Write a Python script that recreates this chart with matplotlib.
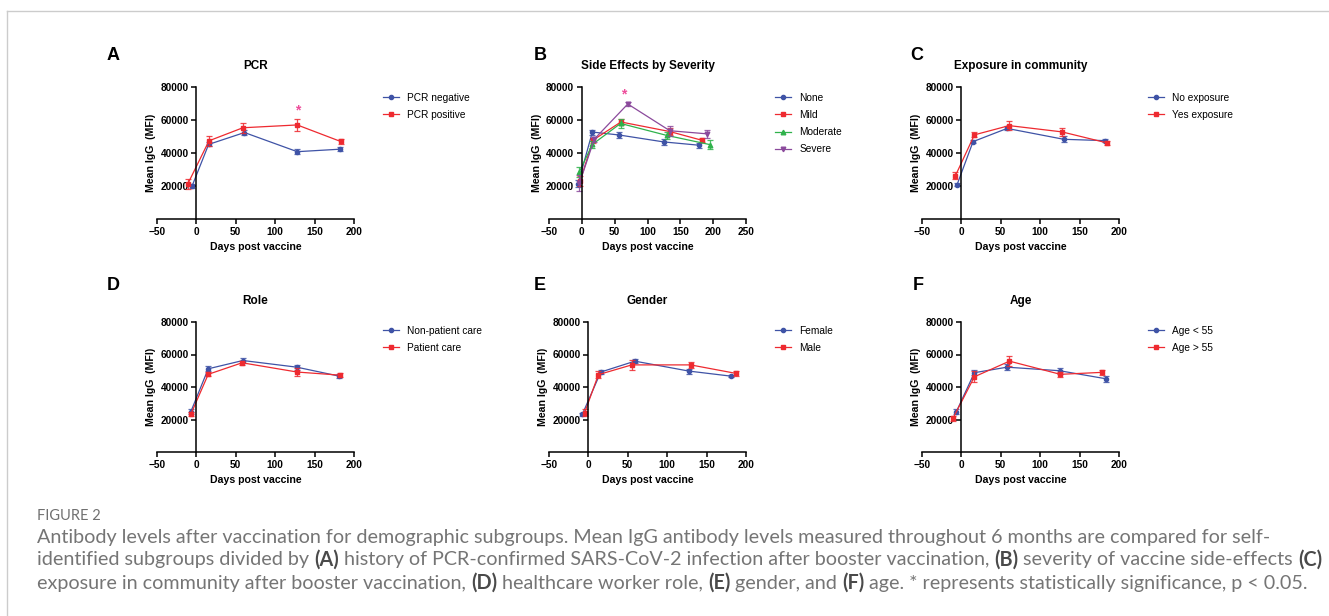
import matplotlib
matplotlib.use("Agg")
import matplotlib.pyplot as plt
from matplotlib.lines import Line2D

# ---- data (days post vaccine, mean IgG MFI, error) ----
# A: PCR
pcr_neg_x = [-5.5, 15.5, 61, 128, 182]
pcr_neg_y = [19950, 45200, 52400, 40800, 42300]
pcr_neg_err = [1200, 1200, 1500, 1500, 1200]
pcr_pos_x = [-11, 16, 59, 128, 183]
pcr_pos_y = [21200, 47400, 55300, 57000, 47000]
pcr_pos_err = [3000, 3000, 3000, 3500, 1500]
pcr_star = (128, 65500)

# B: side effects by severity
se_none_x = [-5.6, 16, 57, 125, 179]
se_none_y = [21500, 52700, 50900, 46700, 44700]
se_none_err = [2000, 1500, 2000, 1800, 1500]
se_mild_x = [-2.5, 17, 59.5, 134, 183]
se_mild_y = [23100, 47800, 58800, 53000, 47700]
se_mild_err = [3000, 1500, 2000, 2000, 1200]
se_mod_x = [-3.6, 16, 59, 129, 195]
se_mod_y = [28700, 45200, 57900, 50700, 45100]
se_mod_err = [3000, 2000, 2500, 2000, 2500]
se_sev_x = [-3.6, 19, 70, 134, 191]
se_sev_y = [21700, 48400, 69700, 53500, 51600]
se_sev_err = [5000, 1500, 1500, 3000, 2500]
se_star = (63, 75400)

# C: exposure in community
exp_no_x = [-5.5, 14.8, 58, 130, 182]
exp_no_y = [20800, 46900, 54900, 48300, 47500]
exp_no_err = [1000, 1000, 1200, 1800, 1000]
exp_yes_x = [-7.6, 16.5, 60.6, 127.6, 185]
exp_yes_y = [26200, 51000, 56600, 52800, 46100]
exp_yes_err = [2000, 1500, 2500, 2500, 1000]

# D: role
role_non_x = [-7, 15, 59, 127.5, 181]
role_non_y = [24900, 51200, 56300, 52200, 46700]
role_non_err = [1500, 1500, 1500, 1500, 1000]
role_pat_x = [-7, 15, 58, 128, 182]
role_pat_y = [23300, 47800, 54900, 49200, 47300]
role_pat_err = [1200, 1200, 1200, 2500, 1200]

# E: gender
gen_f_x = [-7.6, 15.7, 59, 127.5, 180.5]
gen_f_y = [23300, 49200, 55900, 49800, 46700]
gen_f_err = [1000, 1000, 1200, 1500, 800]
gen_m_x = [-4.7, 12.7, 55, 129.7, 187]
gen_m_y = [24300, 47600, 53600, 53600, 48400]
gen_m_err = [2000, 2000, 3000, 2000, 1500]

# F: age
age_lo_x = [-6.3, 16.5, 58, 124.8, 183]
age_lo_y = [24900, 48800, 52200, 50000, 45100]
age_lo_err = [1500, 1500, 2000, 2000, 1800]
age_hi_x = [-10.6, 16.5, 61, 125.6, 178]
age_hi_y = [20800, 46300, 55900, 47800, 49000]
age_hi_err = [1500, 3500, 3000, 1500, 1500]

y_ticks = [20000, 40000, 60000, 80000]

BLUE = "#3f53a6"
RED = "#ee2a30"
GREEN = "#2fb24b"
PURPLE = "#8b4a9c"
STAR = "#ee4d9b"

plt.rcParams["font.family"] = ["Liberation Sans", "DejaVu Sans"]

fig = plt.figure(figsize=(13.29, 6.16), dpi=100)
W, H = 1329, 616


def box(left, top, right, bottom):
    return [left / W, 1 - bottom / H, (right - left) / W, (bottom - top) / H]


def panel(rect, title, letter, letter_xy, series, xmax, leg_y, star=None):
    ax = fig.add_axes(rect)
    for x, y, e, color, marker, ms, label in series:
        ax.errorbar(x, y, yerr=e, fmt="none", ecolor=color, elinewidth=0.9,
                    capsize=2, capthick=0.9, alpha=0.85)
        ax.plot(x, y, color=color, marker=marker, ms=ms, lw=0.9,
                label=label)
    if star is not None:
        ax.text(star[0], star[1], "*", color=STAR, fontsize=10,
                ha="center", va="center", fontweight="bold")
    ax.set_xlim(-50, xmax)
    ax.set_ylim(0, 80000)
    ax.set_xticks(range(-50, xmax + 1, 50))
    ax.set_yticks(y_ticks)
    ax.spines["left"].set_position(("data", 0))
    ax.spines["top"].set_visible(False)
    ax.spines["right"].set_visible(False)
    for s in ("left", "bottom"):
        ax.spines[s].set_linewidth(1.1)
    ax.tick_params(length=3.5, width=1.1, labelsize=7.3, pad=2)
    for lab in ax.get_xticklabels() + ax.get_yticklabels():
        lab.set_fontweight("bold")
    ax.set_title(title, fontsize=8.5, fontweight="bold", pad=13)
    ax.set_xlabel("Days post vaccine", fontsize=7.6, fontweight="bold",
                  labelpad=4)
    ax.set_ylabel("Mean IgG  (MFI)", fontsize=7.6, fontweight="bold",
                  labelpad=3)
    ax.legend(loc="upper left", bbox_to_anchor=(1.148, leg_y), frameon=False,
              fontsize=7.3, handlelength=1.6, handletextpad=0.8,
              labelspacing=0.7, borderaxespad=0, borderpad=0)
    fig.text(letter_xy[0] / W, 1 - letter_xy[1] / H, letter, fontsize=13,
             fontweight="bold", ha="center", va="center")
    return ax


panel(box(157, 87, 354, 219), "PCR", "A", (113, 56),
      [(pcr_neg_x, pcr_neg_y, pcr_neg_err, BLUE, "o", 3, "PCR negative"),
       (pcr_pos_x, pcr_pos_y, pcr_pos_err, RED, "s", 3.3, "PCR positive")],
      200, 0.955, pcr_star)
panel(box(549, 87, 746, 219), "Side Effects by Severity", "B", (540, 56),
      [(se_none_x, se_none_y, se_none_err, BLUE, "o", 3, "None"),
       (se_mild_x, se_mild_y, se_mild_err, RED, "s", 3.3, "Mild"),
       (se_mod_x, se_mod_y, se_mod_err, GREEN, "^", 3.3, "Moderate"),
       (se_sev_x, se_sev_y, se_sev_err, PURPLE, "v", 3.3, "Severe")],
      250, 0.955, se_star)
panel(box(922, 87, 1119, 219), "Exposure in community", "C", (917, 56),
      [(exp_no_x, exp_no_y, exp_no_err, BLUE, "o", 3, "No exposure"),
       (exp_yes_x, exp_yes_y, exp_yes_err, RED, "s", 3.3, "Yes exposure")],
      200, 0.955)
panel(box(157, 322, 354, 452), "Role", "D", (113, 286),
      [(role_non_x, role_non_y, role_non_err, BLUE, "o", 3, "Non-patient care"),
       (role_pat_x, role_pat_y, role_pat_err, RED, "s", 3.3, "Patient care")],
      200, 0.97)
panel(box(549, 322, 746, 452), "Gender", "E", (540, 286),
      [(gen_f_x, gen_f_y, gen_f_err, BLUE, "o", 3, "Female"),
       (gen_m_x, gen_m_y, gen_m_err, RED, "s", 3.3, "Male")],
      200, 0.97)
panel(box(922, 322, 1119, 452), "Age", "F", (918, 286),
      [(age_lo_x, age_lo_y, age_lo_err, BLUE, "o", 3, "Age < 55"),
       (age_hi_x, age_hi_y, age_hi_err, RED, "s", 3.3, "Age > 55")],
      200, 0.97)

# thin grey frame at the top and left edge
fig.add_artist(Line2D([7 / W, 1], [1 - 11 / H, 1 - 11 / H], color="#cccccc", lw=1))
fig.add_artist(Line2D([7 / W, 7 / W], [1 - 11 / H, 0], color="#cccccc", lw=1))

# caption
cap_font = ["Lato", "DejaVu Sans"]
fig.text(37 / W, 1 - 516 / H, "FIGURE 2", fontsize=10.5, color="#707070",
         family=cap_font, va="center")

caption = [
    [("Antibody levels after vaccination for demographic subgroups. Mean IgG antibody "
      "levels measured throughout 6 months are compared for self-", False)],
    [("identified subgroups divided by ", False), ("(A)", True),
     (" history of PCR-confirmed SARS-CoV-2 infection after booster vaccination, ", False),
     ("(B)", True), (" severity of vaccine side-effects ", False), ("(C)", True)],
    [("exposure in community after booster vaccination, ", False), ("(D)", True),
     (" healthcare worker role, ", False), ("(E)", True), (" gender, and ", False),
     ("(F)", True), (" age. * represents statistically significance, p < 0.05.", False)],
]
line_y = [537, 560, 583]

renderer = fig.canvas.get_renderer()
for parts, ly in zip(caption, line_y):
    x = 37
    for txt, bold in parts:
        t = fig.text(x / W, 1 - ly / H, txt, fontsize=14.2, family=cap_font,
                     color="#4a4a4a" if bold else "#757575",
                     fontweight="bold" if bold else "normal", va="center")
        x += t.get_window_extent(renderer).width

fig.savefig("out.png", dpi=100)
